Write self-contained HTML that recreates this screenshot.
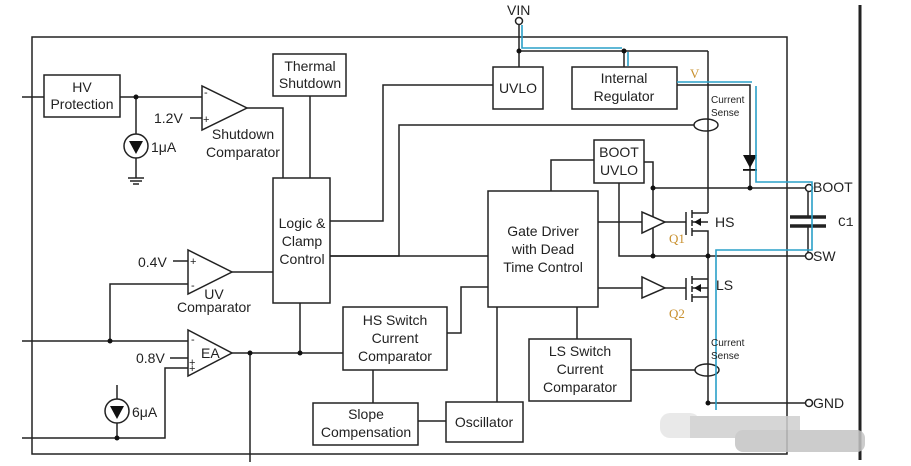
<!DOCTYPE html>
<html><head><meta charset="utf-8"><style>
html,body{margin:0;padding:0;background:#fff;}
svg{display:block;font-family:"Liberation Sans",Arial,sans-serif;}
text{fill:#222;}
</style></head><body>
<svg width="911" height="466" viewBox="0 0 911 466" xmlns="http://www.w3.org/2000/svg">
<rect width="911" height="466" fill="#fff"/>
<g stroke="#222" stroke-width="1.5" fill="none">
<rect x="32" y="37" width="755" height="417"/>
<line x1="860" y1="5" x2="860" y2="460" stroke-width="3"/>
<rect x="44" y="75" width="76" height="42"/>
<line x1="22" y1="97" x2="44" y2="97"/>
<line x1="120" y1="97" x2="202" y2="97"/>
<line x1="136" y1="97" x2="136" y2="178"/>
<circle cx="136" cy="146" r="12" fill="#fff"/>
<line x1="128" y1="178" x2="144" y2="178"/><line x1="130" y1="181" x2="142" y2="181"/><line x1="133" y1="184" x2="139" y2="184"/>
<polygon points="202,86 202,130 247,108" fill="#fff"/>
<line x1="190" y1="118" x2="202" y2="118"/>
<polyline points="247,108 283,108 283,178"/>
<rect x="273" y="54" width="73" height="42"/>
<line x1="310" y1="96" x2="310" y2="178"/>
<rect x="273" y="178" width="57" height="125"/>
<polyline points="330,221 383,221 383,85 493,85"/>
<polyline points="330,256 399,256 399,125 694,125"/>
<polyline points="330,256 488,256"/>
<polygon points="188,250 188,294 232,272" fill="#fff"/>
<line x1="173" y1="261" x2="188" y2="261"/>
<line x1="232" y1="272" x2="273" y2="272"/>
<polyline points="188,284 110,284 110,341"/>
<line x1="22" y1="341" x2="188" y2="341"/>
<polygon points="188,330 188,376 232,353" fill="#fff"/>
<line x1="170" y1="358" x2="188" y2="358"/>
<polyline points="188,368 165,368 165,438 22,438"/>
<line x1="117" y1="385" x2="117" y2="438"/>
<circle cx="117" cy="411" r="12" fill="#fff"/>
<line x1="232" y1="353" x2="343" y2="353"/>
<line x1="250" y1="353" x2="250" y2="462"/>
<line x1="300" y1="353" x2="300" y2="303"/>
<rect x="343" y="307" width="104" height="63"/>
<line x1="373" y1="370" x2="373" y2="403"/>
<polyline points="447,333 461,333 461,287 488,287"/>
<rect x="313" y="403" width="105" height="42"/>
<line x1="418" y1="421" x2="446" y2="421"/>
<rect x="446" y="402" width="77" height="40"/>
<line x1="497" y1="307" x2="497" y2="402"/>
<rect x="488" y="191" width="110" height="116"/>
<polyline points="551,191 551,160 594,160"/>
<line x1="577" y1="307" x2="577" y2="339"/>
<rect x="529" y="339" width="102" height="62"/>
<line x1="631" y1="370" x2="695" y2="370"/>
<rect x="594" y="140" width="50" height="43"/>
<polyline points="644,162 653,162 653,256"/>
<polyline points="619,183 619,256 806,256"/>
<line x1="653" y1="188" x2="806" y2="188"/>
<line x1="519" y1="25" x2="519" y2="67"/>
<line x1="519" y1="51" x2="708" y2="51"/>
<line x1="624" y1="51" x2="624" y2="67"/>
<rect x="493" y="67" width="50" height="42"/>
<rect x="572" y="67" width="105" height="42"/>
<polyline points="677,85 750,85 750,188"/>
<line x1="708" y1="51" x2="708" y2="213"/>
<line x1="598" y1="222" x2="642" y2="222"/>
<polygon points="642,212 642,233 665,222" fill="#fff"/>
<line x1="665" y1="222" x2="686" y2="222"/>
<line x1="686" y1="212" x2="686" y2="235"/>
<line x1="692" y1="210" x2="692" y2="218"/><line x1="692" y1="220" x2="692" y2="226"/><line x1="692" y1="228" x2="692" y2="236"/>
<polyline points="692,213 708,213"/>
<polyline points="692,231 708,231 708,403 806,403"/>
<line x1="692" y1="222" x2="708" y2="222"/>
<line x1="598" y1="288" x2="642" y2="288"/>
<polygon points="642,277 642,298 665,288" fill="#fff"/>
<line x1="665" y1="288" x2="686" y2="288"/>
<line x1="686" y1="278" x2="686" y2="300"/>
<line x1="692" y1="276" x2="692" y2="284"/><line x1="692" y1="286" x2="692" y2="292"/><line x1="692" y1="294" x2="692" y2="302"/>
<line x1="692" y1="279" x2="708" y2="279"/>
<line x1="692" y1="297" x2="708" y2="297"/>
<line x1="692" y1="288" x2="708" y2="288"/>
<line x1="808" y1="192" x2="808" y2="217"/>
<line x1="808" y1="226" x2="808" y2="252"/>
<line x1="790" y1="217" x2="826" y2="217" stroke-width="3.5"/>
<line x1="790" y1="226" x2="826" y2="226" stroke-width="3.5"/>
<ellipse cx="706" cy="125" rx="12" ry="6" fill="#fff"/>
<ellipse cx="707" cy="370" rx="12" ry="6" fill="#fff"/>
<line x1="708" y1="119" x2="708" y2="131"/>
<line x1="708" y1="364" x2="708" y2="376"/>
<circle cx="519" cy="21" r="3.5" fill="#fff"/>
<circle cx="809" cy="188" r="3.5" fill="#fff"/>
<circle cx="809" cy="256" r="3.5" fill="#fff"/>
<circle cx="809" cy="403" r="3.5" fill="#fff"/>
</g>
<g fill="#111">
<polygon points="129,141 143,141 136,154"/>
<polygon points="110,406 124,406 117,419"/>
<polygon points="743,155 757,155 750,168"/>
<rect x="743" y="169" width="14" height="1.8"/>
<polygon points="694,222 701,218 701,226"/>
<polygon points="694,288 701,284 701,292"/>
<circle cx="136" cy="97" r="2.5"/><circle cx="110" cy="341" r="2.5"/><circle cx="117" cy="438" r="2.5"/>
<circle cx="250" cy="353" r="2.5"/><circle cx="300" cy="353" r="2.5"/>
<circle cx="519" cy="51" r="2.5"/><circle cx="624" cy="51" r="2.5"/>
<circle cx="653" cy="188" r="2.5"/><circle cx="750" cy="188" r="2.5"/>
<circle cx="653" cy="256" r="2.5"/><circle cx="708" cy="256" r="2.5"/><circle cx="708" cy="403" r="2.5"/>
</g>
<g stroke="#2aa0c8" stroke-width="1.6" fill="none">
<polyline points="522,25 522,48 622,48"/>
<polyline points="628,52 628,66"/>
<polyline points="677,82 752,82"/>
<polyline points="756,86 756,182 812,182 812,250 716,250 716,410"/>
</g>
<g font-size="14" text-anchor="middle">
<text x="82" y="92">HV</text><text x="82" y="109">Protection</text>
<text x="310" y="71">Thermal</text><text x="310" y="88">Shutdown</text>
<text x="302" y="228">Logic &amp;</text><text x="302" y="246">Clamp</text><text x="302" y="264">Control</text>
<text x="518" y="93">UVLO</text>
<text x="624" y="83">Internal</text><text x="624" y="101">Regulator</text>
<text x="619" y="157">BOOT</text><text x="619" y="175">UVLO</text>
<text x="543" y="236">Gate Driver</text><text x="543" y="254">with Dead</text><text x="543" y="272">Time Control</text>
<text x="395" y="325">HS Switch</text><text x="395" y="343">Current</text><text x="395" y="361">Comparator</text>
<text x="580" y="356">LS Switch</text><text x="580" y="374">Current</text><text x="580" y="392">Comparator</text>
<text x="366" y="419">Slope</text><text x="366" y="437">Compensation</text>
<text x="484" y="427">Oscillator</text>
<text x="243" y="139">Shutdown</text><text x="243" y="157">Comparator</text>
<text x="214" y="299">UV</text><text x="214" y="312">Comparator</text>
</g>
<g font-size="14">
<text x="154" y="123">1.2V</text><text x="151" y="152">1μA</text>
<text x="138" y="267">0.4V</text><text x="136" y="363">0.8V</text>
<text x="201" y="358">EA</text><text x="132" y="417">6μA</text>
<text x="507" y="15">VIN</text>
<text x="715" y="227">HS</text><text x="716" y="290">LS</text>
<text x="813" y="192">BOOT</text><text x="813" y="261">SW</text><text x="813" y="408">GND</text>
</g>
<g font-size="11">
<text x="204" y="96">-</text><text x="203" y="123">+</text>
<text x="190" y="265">+</text><text x="191" y="289">-</text>
<text x="191" y="343">-</text><text x="189" y="366">+</text><text x="189" y="372">+</text>
</g>
<g font-size="10">
<text x="711" y="103">Current</text><text x="711" y="116">Sense</text>
<text x="711" y="346">Current</text><text x="711" y="359">Sense</text>
</g>
<g font-family="Liberation Serif,serif" font-size="13">
<text x="669" y="243" style="fill:#c8902e">Q1</text>
<text x="669" y="318" style="fill:#c8902e">Q2</text>
<text x="690" y="78" style="fill:#c8902e">V</text>
</g>
<text x="838" y="226" font-family="Liberation Mono,monospace" font-size="13">C1</text>
<g opacity="0.85">
<rect x="660" y="413" width="40" height="25" rx="10" fill="#e6e6e6"/>
<rect x="690" y="416" width="110" height="22" fill="#cfcfcf"/>
<rect x="735" y="430" width="130" height="22" rx="8" fill="#c4c4c4"/>
</g>
</svg>
</body></html>
